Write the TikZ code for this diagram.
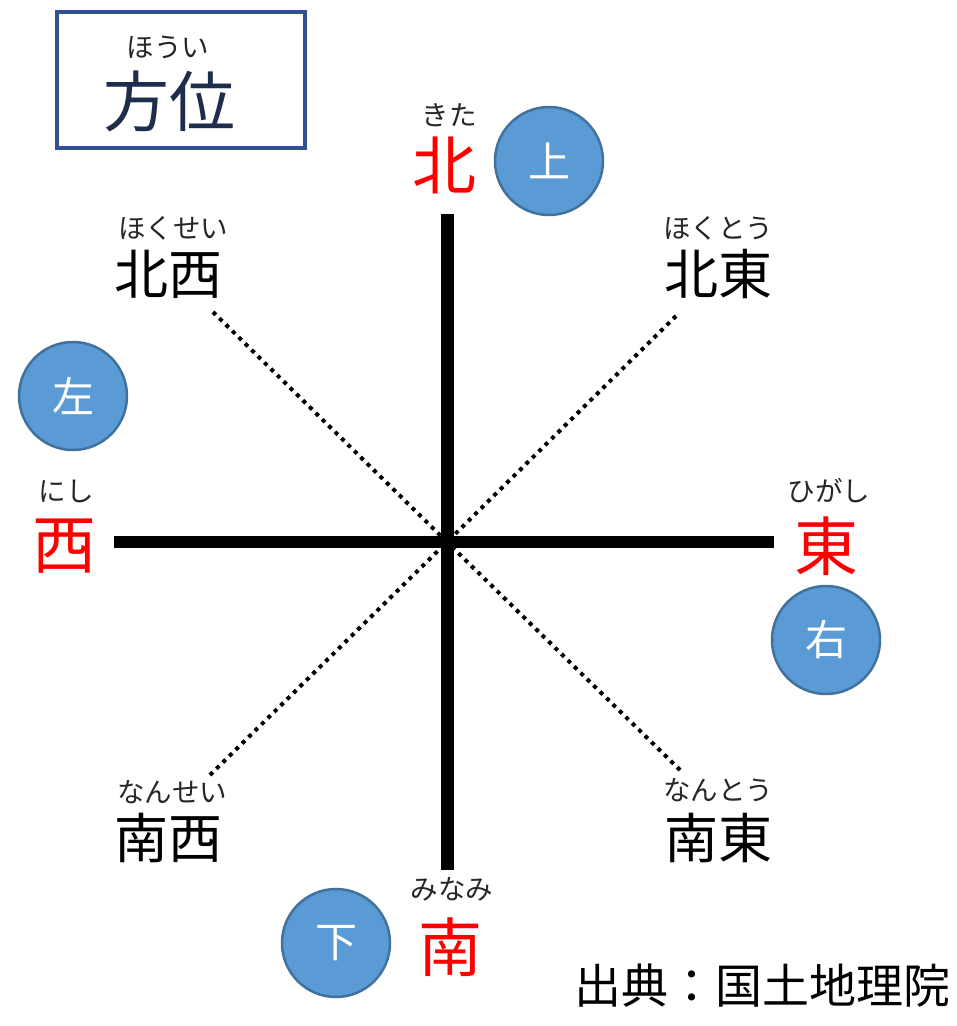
\documentclass[tikz,border=0pt]{standalone}
\usepackage{fontspec}
\newfontfamily\jp{Noto Sans CJK JP}
\definecolor{circfill}{HTML}{5B9BD5}
\definecolor{circline}{HTML}{41719C}
\definecolor{boxline}{HTML}{2F528F}
\definecolor{navy}{HTML}{1F2D4D}
\begin{document}
\begin{tikzpicture}[x=1pt,y=-1pt,
  every node/.style={inner sep=0pt,outer sep=0pt},
  red label/.style={text=red,font=\jp\fontsize{64}{64}\selectfont},
  mid label/.style={text=black,font=\jp\fontsize{54}{54}\selectfont},
  kana/.style={text=black!85,font=\jp\fontsize{27.5}{27.5}\selectfont},
  hand/.style={circle,draw=circline,line width=2.5pt,fill=circfill,minimum size=108pt,text=white,font=\jp\fontsize{42}{42}\selectfont},
  axis/.style={line width=13pt,black},
  diag/.style={line width=4pt,black,dash pattern=on 4pt off 5pt}
]
\useasboundingbox (0,0) rectangle (957,1026);
\fill[white] (0,0) rectangle (957,1026);
% title box
\node[draw=boxline,line width=4pt,minimum width=248pt,minimum height=136pt] (box) at (181,80) {};
\node[kana] (houi) at (168,47) {ほうい};
\node[text=navy,font=\jp\fontsize{66}{66}\selectfont] (title) at (169,101) {方位};
% centre and axis ends
\coordinate (c) at (447,542);
\coordinate (nTop) at (447,214);
\coordinate (nBot) at (447,870);
\coordinate (wEnd) at (114,542);
\coordinate (eEnd) at (774,542);
\coordinate (nw) at (213,312);
\coordinate (ne) at (676,316);
\coordinate (sw) at (210,775);
\coordinate (se) at (680,770);
\draw[diag] (nw) -- (c);
\draw[diag] (ne) -- (c);
\draw[diag] (sw) -- (c);
\draw[diag] (se) -- (c);
\draw[axis] (nTop) -- (nBot);
\draw[axis,line width=12pt] (wEnd) -- (eEnd);
% cardinal labels
\node[kana] (kita) at (449,115) {きた};
\node[red label] (N) at (444,165) {北};
\node[kana] (nishi) at (66,491) {にし};
\node[red label] (W) at (64,546) {西};
\node[kana] (higashi) at (829,491) {ひがし};
\node[red label] (E) at (826,546) {東};
\node[kana] (minami) at (452,889) {みなみ};
\node[red label] (S) at (450,947) {南};
% intercardinal labels
\node[kana] (hokusei) at (173,228) {ほくせい};
\node[mid label] (NW) at (168,274) {北西};
\node[kana] (hokutou) at (718,228) {ほくとう};
\node[mid label] (NE) at (718,274) {北東};
\node[kana] (nansei) at (172,792) {なんせい};
\node[mid label] (SW) at (168,838) {南西};
\node[kana] (nantou) at (718,790) {なんとう};
\node[mid label] (SE) at (718,838) {南東};
% hand circles
\node[hand] (up) at (549,161) {上};
\node[hand] (left) at (73,396) {左};
\node[hand] (right) at (826,640) {右};
\node[hand] (down) at (336,943) {下};
% source
\node[text=black,font=\jp\fontsize{47}{47}\selectfont] (src) at (762,986) {出典：国土地理院};
\end{tikzpicture}
\end{document}
